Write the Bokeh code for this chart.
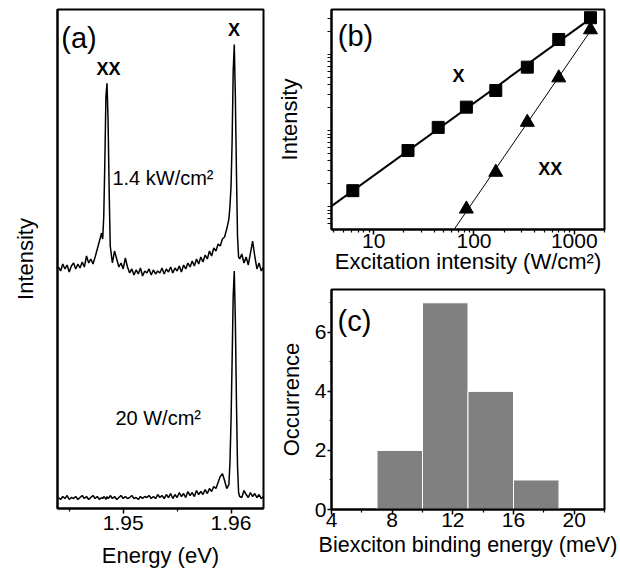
import numpy as np
from bokeh.plotting import figure
from bokeh.layouts import row, column
from bokeh.models import Range1d, FixedTicker, Label, PrintfTickFormatter
from bokeh.embed import file_html
from bokeh.resources import INLINE

FONT = "Liberation Sans"

# ---------------- (a) spectra ----------------
energy = [
    1.9440, 1.9442, 1.9444, 1.9446, 1.9448, 1.9450, 1.9452, 1.9454, 1.9456, 1.9458,
    1.9460, 1.9462, 1.9464, 1.9466, 1.9468, 1.9470, 1.9472, 1.9474, 1.9476, 1.9478,
    1.9480, 1.9481, 1.9482, 1.9483, 1.9484, 1.9485, 1.9486, 1.9487, 1.9488, 1.9490,
    1.9492, 1.9494, 1.9496, 1.9498, 1.9500, 1.9502, 1.9504, 1.9506, 1.9508, 1.9510,
    1.9512, 1.9514, 1.9516, 1.9518, 1.9520, 1.9522, 1.9524, 1.9526, 1.9528, 1.9530,
    1.9532, 1.9534, 1.9536, 1.9538, 1.9540, 1.9542, 1.9544, 1.9546, 1.9548, 1.9550,
    1.9552, 1.9554, 1.9556, 1.9558, 1.9560, 1.9562, 1.9564, 1.9566, 1.9568, 1.9570,
    1.9572, 1.9574, 1.9576, 1.9578, 1.9580, 1.9582, 1.9584, 1.9586, 1.9588, 1.9590,
    1.9592, 1.9594, 1.9596, 1.9598, 1.9599, 1.9600, 1.9601, 1.9602, 1.9603, 1.9604,
    1.9605, 1.9606, 1.9607, 1.9608, 1.9610, 1.9612, 1.9614, 1.9616, 1.9618, 1.9620,
    1.9622, 1.9624, 1.9626, 1.9628, 1.9630,
]
# 1.4 kW/cm2 spectrum (shown offset upward)
spec_high = [
    242, 238, 245, 240, 244, 237, 243, 246, 240, 245,
    241, 247, 242, 253, 246, 250, 245, 252, 260, 268,
    276, 270, 293, 348, 413, 426, 388, 318, 263, 246,
    258, 250, 242, 246, 240, 251, 242, 236, 240, 234,
    239, 235, 241, 233, 238, 236, 240, 234, 239, 235,
    238, 236, 241, 235, 240, 237, 242, 236, 241, 238,
    243, 237, 244, 240, 246, 242, 248, 243, 250, 245,
    252, 247, 254, 250, 258, 253, 261, 258, 265, 263,
    270, 272, 280, 290, 303, 323, 368, 438, 465, 413,
    338, 273, 252, 250, 255, 246, 252, 244, 256, 268,
    253, 240, 246, 238, 242,
]
# 20 W/cm2 spectrum
spec_low = [
    11, 9, 12, 10, 13, 9, 11, 10, 12, 9,
    11, 13, 10, 12, 9, 11, 13, 10, 12, 9,
    11, 10, 12, 11, 9, 12, 10, 11, 13, 10,
    12, 9, 11, 13, 10, 12, 10, 11, 13, 10,
    11, 9, 12, 10, 12, 11, 13, 10, 12, 10,
    14, 11, 13, 10, 14, 11, 15, 10, 14, 11,
    16, 12, 15, 11, 17, 13, 16, 12, 18, 14,
    17, 14, 19, 15, 20, 17, 22, 20, 26, 32,
    35, 28, 20, 24, 46, 88, 148, 213, 238, 188,
    108, 43, 16, 12, 11, 18, 14, 11, 16, 12,
    15, 11, 14, 10, 12,
]
energy_ticks = [1.95, 1.96]
energy_minor_ticks = [1.945, 1.955]

# ---------------- (b) power dependence ----------------
x_power = [6.2, 22, 44, 84, 165, 340, 700, 1450]
x_intensity = [16.2, 54.6, 110, 203, 336, 681, 1574, 3040]
xx_power = [84, 165, 340, 700, 1450]
xx_intensity = [9.3, 28.3, 128.5, 493, 2113]
power_ticks = [10, 100, 1000]
power_minor = [4, 5, 6, 7, 8, 9, 20, 30, 40, 50, 60, 70, 80, 90,
               200, 300, 400, 500, 600, 700, 800, 900, 2000]
intensity_ticks = [6, 7, 8, 9, 10, 20, 30, 40, 50, 60, 70, 80, 90, 100,
                   200, 300, 400, 500, 600, 700, 800, 900, 1000, 2000, 3000]

# ---------------- (c) histogram ----------------
bin_left = [7, 10, 13, 16]
bin_right = [10, 13, 16, 19]
occurrence = [2, 7, 4, 1]
binding_ticks = [4, 8, 12, 16, 20]
binding_minor = [6, 10, 14, 18, 22]
occ_ticks = [0, 2, 4, 6]
occ_minor = [1, 3, 5, 7]


def style(p):
    p.outline_line_color = "black"
    p.outline_line_width = 2
    p.xgrid.visible = False
    p.ygrid.visible = False
    p.background_fill_color = "white"
    p.border_fill_color = "white"
    for ax in p.axis:
        ax.axis_line_width = 2
        ax.axis_line_color = "black"
        ax.major_tick_in = 0
        ax.major_tick_out = 5
        ax.minor_tick_in = 0
        ax.minor_tick_out = 3
        ax.major_tick_line_width = 1.5
        ax.minor_tick_line_width = 1.2
        ax.major_tick_line_color = "black"
        ax.minor_tick_line_color = "black"
        ax.major_label_text_font = FONT
        ax.major_label_text_font_size = "21px"
        ax.major_label_text_color = "black"
        ax.major_label_text_line_height = 1.0
        ax.axis_label_text_font = FONT
        ax.axis_label_text_font_size = "22px"
        ax.axis_label_text_font_style = "normal"
        ax.axis_label_text_color = "black"
        ax.axis_label_text_line_height = 1.0


def add_label(p, x, y, text, size, align="left", bold=False):
    p.add_layout(Label(x=x, y=y, text=text, text_font=FONT, text_font_size=size,
                       text_align=align, text_baseline="alphabetic",
                       text_font_style="bold" if bold else "normal",
                       text_color="black"))


# ---- panel (a)
pa = figure(frame_width=206, frame_height=499,
            x_range=Range1d(1.94391, 1.96301), y_range=Range1d(0, 500),
            min_border_left=57, min_border_right=8, min_border_top=9, min_border_bottom=64,
            output_backend="svg", toolbar_location=None)
pa.line(energy, spec_high, line_color="black", line_width=1.5)
pa.line(energy, spec_low, line_color="black", line_width=1.5)
style(pa)
pa.xaxis.ticker = FixedTicker(ticks=energy_ticks, minor_ticks=energy_minor_ticks)
pa.xaxis.formatter = PrintfTickFormatter(format="%.2f")
pa.xaxis.major_label_standoff = 2
pa.xaxis.axis_label_standoff = 10
pa.xaxis.axis_label = "Energy (eV)"
pa.yaxis.axis_label = "Intensity"
pa.yaxis.ticker = FixedTicker(ticks=[], minor_ticks=[])
pa.yaxis.major_tick_out = 0
pa.yaxis.minor_tick_out = 0
pa.yaxis.major_label_standoff = 0
pa.yaxis.axis_label_standoff = 20
add_label(pa, 1.94426, 471, "(a)", "29px")
add_label(pa, 1.94863, 440, "XX", "18px", align="center", bold=True)
add_label(pa, 1.96027, 479, "X", "18px", align="center", bold=True)
add_label(pa, 1.94900, 331, "1.4 kW/cm²", "20px")
add_label(pa, 1.94928, 91, "20 W/cm²", "20px")

# ---- panel (b)
pb = figure(frame_width=273, frame_height=220, x_axis_type="log", y_axis_type="log",
            x_range=Range1d(3.8, 2000), y_range=Range1d(5.0, 3900),
            min_border_left=60, min_border_right=16, min_border_top=9, min_border_bottom=59,
            output_backend="svg", toolbar_location=None)
lx, ly = np.log10(x_power), np.log10(x_intensity)
sx = np.polyfit(lx, ly, 1)
fx = np.array([3.0, x_power[-1]])
pb.line(fx, 10 ** np.polyval(sx, np.log10(fx)), line_color="black", line_width=2)
lxx, lyy = np.log10(xx_power), np.log10(xx_intensity)
sxx = np.polyfit(lxx, lyy, 1)
fxx = np.array([30.0, xx_power[-1]])
pb.line(fxx, 10 ** np.polyval(sxx, np.log10(fxx)), line_color="black", line_width=1)
pb.scatter(x_power, x_intensity, marker="square", size=12, fill_color="black", line_color="black")
pb.scatter(xx_power, xx_intensity, marker="triangle", size=14, fill_color="black", line_color="black")
style(pb)
pb.xaxis.ticker = FixedTicker(ticks=power_ticks, minor_ticks=power_minor)
pb.xaxis.formatter = PrintfTickFormatter(format="%d")
pb.xaxis.major_label_standoff = -1
pb.xaxis.axis_label_standoff = -2
pb.xaxis.axis_label = "Excitation intensity (W/cm²)"
pb.yaxis.ticker = FixedTicker(ticks=[], minor_ticks=intensity_ticks)
pb.yaxis.major_tick_out = 4
pb.yaxis.minor_tick_out = 4
pb.yaxis.major_label_standoff = 0
pb.yaxis.axis_label = "Intensity"
pb.yaxis.axis_label_standoff = 26
add_label(pb, 4.39, 1726, "(b)", "29px")
add_label(pb, 70.2, 514, "X", "18px", align="center", bold=True)
add_label(pb, 577, 31.6, "XX", "18px", align="center", bold=True)

# ---- panel (c)
pc = figure(frame_width=273, frame_height=220, x_range=Range1d(4, 22), y_range=Range1d(0, 7.45),
            min_border_left=60, min_border_right=16, min_border_top=1, min_border_bottom=63,
            output_backend="svg", toolbar_location=None)
pc.quad(left=bin_left, right=bin_right, bottom=0, top=occurrence,
        fill_color="#808080", line_color="white", line_width=1)
style(pc)
pc.xaxis.ticker = FixedTicker(ticks=binding_ticks, minor_ticks=binding_minor)
pc.xaxis.major_label_standoff = -2
pc.xaxis.axis_label_standoff = 3
pc.xaxis.axis_label_text_font_size = "21.5px"
pc.yaxis.ticker = FixedTicker(ticks=occ_ticks, minor_ticks=occ_minor)
pc.yaxis.major_tick_out = 4
pc.yaxis.minor_tick_out = 2
pc.yaxis.major_label_standoff = 1
pc.yaxis.axis_label_standoff = 8
pc.xaxis.axis_label = "Biexciton binding energy (meV)"
pc.yaxis.axis_label = "Occurrence"
add_label(pc, 4.4, 6.4, "(c)", "29px")

layout = row(pa, column(pb, pc))
open("out.html", "w").write(file_html(layout, INLINE))
